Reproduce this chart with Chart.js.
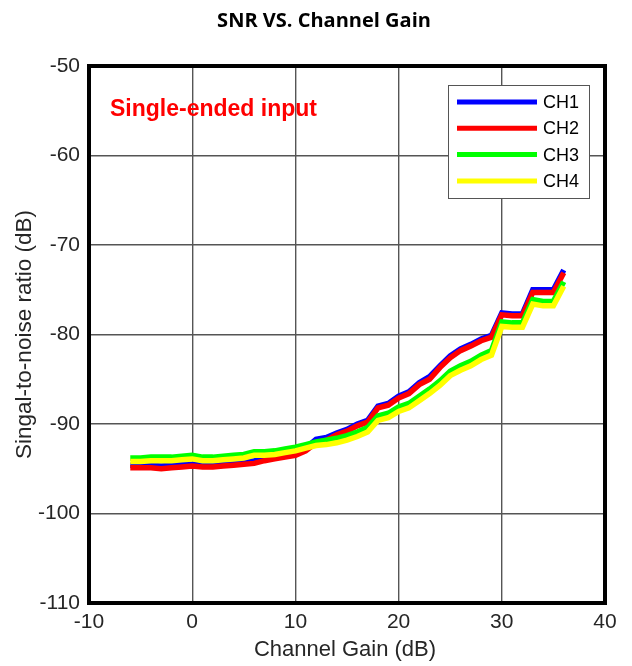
<!DOCTYPE html>
<html>
<head>
<meta charset="utf-8">
<script src="https://cdn.jsdelivr.net/npm/chart.js@4.4.1/dist/chart.umd.min.js"></script>
<style>
  html, body { margin: 0; padding: 0; background: #ffffff; }
  #wrap { width: 632px; height: 666px; position: relative; }
</style>
</head>
<body>
<div id="wrap"><canvas id="c" width="632" height="666"></canvas></div>
<script>
// ---- data ----
const gains = [-6,-5,-4,-3,-2,-1,0,1,2,3,4,5,6,7,8,9,10,11,12,13,14,15,16,17,18,19,20,21,22,23,24,25,26,27,28,29,30,31,32,33,34,35,36];
const ch1 = [-94.6,-94.6,-94.6,-94.7,-94.6,-94.5,-94.5,-94.6,-94.6,-94.5,-94.4,-94.2,-94.1,-93.9,-93.7,-93.5,-93.1,-92.7,-91.7,-91.5,-91.0,-90.6,-90.0,-89.6,-88.0,-87.7,-86.9,-86.4,-85.4,-84.7,-83.5,-82.4,-81.6,-81.1,-80.5,-80.1,-77.6,-77.7,-77.7,-75.0,-75.0,-75.0,-72.8];
const ch2 = [-94.9,-94.9,-94.9,-95.0,-94.9,-94.8,-94.7,-94.8,-94.8,-94.7,-94.6,-94.5,-94.4,-94.1,-93.9,-93.7,-93.5,-93.0,-92.1,-91.8,-91.2,-90.8,-90.2,-89.8,-88.2,-87.9,-87.1,-86.6,-85.6,-85.0,-83.7,-82.6,-81.8,-81.3,-80.7,-80.3,-77.8,-77.9,-77.9,-75.3,-75.3,-75.3,-73.1];
const ch3 = [-93.8,-93.8,-93.7,-93.7,-93.7,-93.6,-93.5,-93.7,-93.7,-93.6,-93.5,-93.4,-93.1,-93.1,-93.0,-92.8,-92.6,-92.3,-92.0,-91.8,-91.6,-91.3,-90.9,-90.4,-89.1,-88.8,-88.1,-87.7,-86.9,-86.1,-85.2,-84.1,-83.5,-83.0,-82.3,-81.8,-78.6,-78.7,-78.7,-76.1,-76.3,-76.3,-74.1];
const ch4 = [-94.2,-94.2,-94.1,-94.1,-94.1,-94.0,-93.9,-94.1,-94.1,-94.0,-93.9,-93.8,-93.5,-93.5,-93.4,-93.2,-93.0,-92.7,-92.4,-92.3,-92.1,-91.8,-91.4,-90.9,-89.6,-89.3,-88.6,-88.2,-87.4,-86.6,-85.7,-84.6,-84.0,-83.5,-82.8,-82.3,-79.1,-79.2,-79.2,-76.6,-76.8,-76.8,-74.6];
const seriesNames = ['CH1','CH2','CH3','CH4'];
const seriesColors = ['#0000ff','#ff0000','#00ff00','#ffff00'];
const xTicks = [-10,0,10,20,30,40];
const yTicks = [-110,-100,-90,-80,-70,-60,-50];
const titleText = 'SNR VS. Channel Gain';
const xTitle = 'Channel Gain (dB)';
const yTitle = 'Singal-to-noise ratio (dB)';
const noteText = 'Single-ended input';

const allSeries = [ch1, ch2, ch3, ch4];

function pts(arr) { return gains.map((g, i) => ({x: g, y: arr[i]})); }

const datasets = allSeries.map((s, i) => ({
  label: seriesNames[i],
  data: pts(s),
  borderColor: seriesColors[i],
  backgroundColor: seriesColors[i],
  borderWidth: 5.5,
  pointRadius: 0,
  tension: 0,
  fill: false,
  order: 4 - i,
  borderJoinStyle: 'miter',
  borderCapStyle: 'butt'
}));

const deco = {
  id: 'deco',
  beforeDraw(chart) {
    const ctx = chart.ctx;
    ctx.save();
    ctx.fillStyle = '#ffffff';
    ctx.fillRect(0, 0, chart.width, chart.height);
    ctx.restore();
  },
  afterDraw(chart) {
    const ctx = chart.ctx;
    const a = chart.chartArea;
    ctx.save();
    // thick axes box
    ctx.strokeStyle = '#000000';
    ctx.lineWidth = 4;
    ctx.strokeRect(a.left, a.top, a.right - a.left, a.bottom - a.top);

    // title
    ctx.fillStyle = '#000000';
    ctx.font = 'bold 20px "Open Sans", "Liberation Sans", sans-serif';
    ctx.textAlign = 'center';
    ctx.textBaseline = 'middle';
    ctx.fillText(titleText, 324, 21);

    // axis titles
    ctx.fillStyle = '#262626';
    ctx.font = '22px "Liberation Sans", Arial, sans-serif';
    ctx.fillText(xTitle, (a.left + a.right) / 2 - 2, 650);
    ctx.save();
    ctx.font = '22.5px "Liberation Sans", Arial, sans-serif';
    ctx.translate(25, (a.top + a.bottom) / 2);
    ctx.rotate(-Math.PI / 2);
    ctx.fillText(yTitle, 0, 0);
    ctx.restore();

    // annotation
    ctx.fillStyle = '#ff0000';
    ctx.font = 'bold 23px "Liberation Sans", Arial, sans-serif';
    ctx.textAlign = 'left';
    ctx.fillText(noteText, 110, 110);

    // legend
    const lx = 448, ly = 85, lw = 141, lh = 113;
    ctx.fillStyle = '#ffffff';
    ctx.fillRect(lx, ly, lw, lh);
    ctx.strokeStyle = '#555555';
    ctx.lineWidth = 1;
    ctx.strokeRect(lx + 0.5, ly + 0.5, lw, lh);
    ctx.font = '18px "Liberation Sans", Arial, sans-serif';
    ctx.textBaseline = 'middle';
    for (let i = 0; i < seriesNames.length; i++) {
      const yy = 102 + i * 26.3;
      ctx.strokeStyle = seriesColors[i];
      ctx.lineWidth = 5;
      ctx.beginPath();
      ctx.moveTo(457, yy);
      ctx.lineTo(537, yy);
      ctx.stroke();
      ctx.fillStyle = '#000000';
      ctx.fillText(seriesNames[i], 543, yy + 1);
    }
    ctx.restore();
  }
};

new Chart(document.getElementById('c'), {
  type: 'line',
  data: { datasets },
  options: {
    responsive: false,
    animation: false,
    devicePixelRatio: 1,
    layout: { padding: { left: 0, top: 66, right: 27, bottom: 0 } },
    plugins: { legend: { display: false }, title: { display: false }, tooltip: { enabled: false } },
    scales: {
      x: {
        type: 'linear',
        min: -10, max: 40,
        afterFit(s) { s.height = 63; },
        afterBuildTicks(s) { s.ticks = xTicks.map(v => ({value: v})); },
        grid: { color: '#555555', lineWidth: 1.4, drawTicks: false },
        border: { display: false },
        ticks: { padding: 7, color: '#262626', font: { family: '"Liberation Sans", Arial, sans-serif', size: 21 }, maxRotation: 0 }
      },
      y: {
        type: 'linear',
        min: -110, max: -50,
        afterFit(s) { s.width = 89; },
        afterBuildTicks(s) { s.ticks = yTicks.map(v => ({value: v})); },
        grid: { color: '#555555', lineWidth: 1.4, drawTicks: false },
        border: { display: false },
        ticks: { padding: 9, color: '#262626', font: { family: '"Liberation Sans", Arial, sans-serif', size: 21 } }
      }
    }
  },
  plugins: [deco]
});
</script>
</body>
</html>
